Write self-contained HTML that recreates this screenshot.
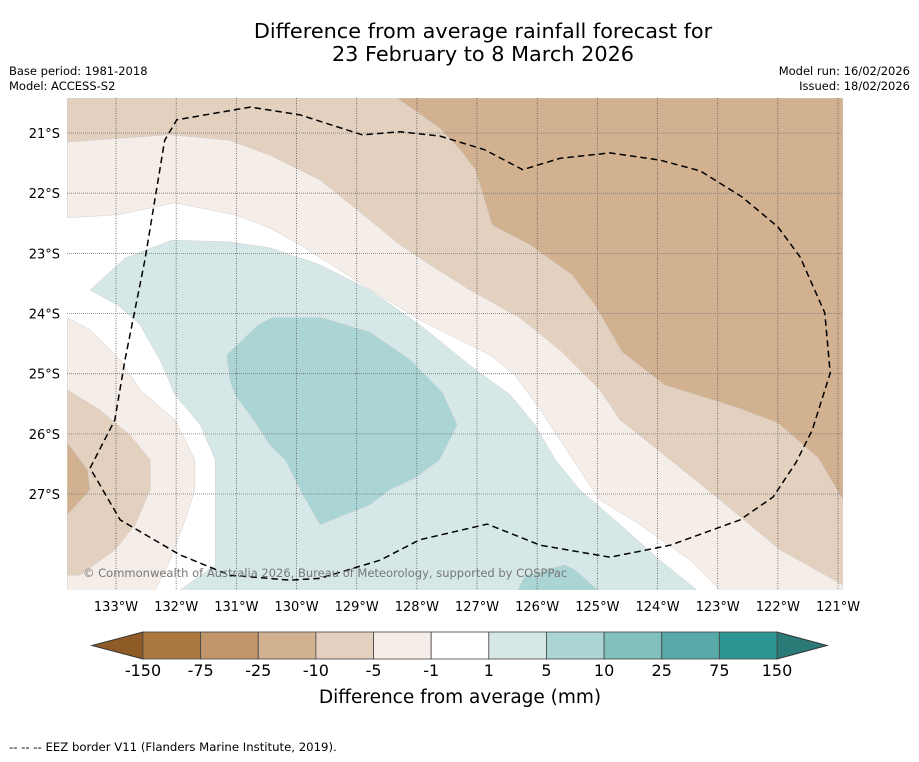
<!DOCTYPE html>
<html><head><meta charset="utf-8">
<style>
html,body{margin:0;padding:0;background:#fff;}
body{width:919px;height:758px;overflow:hidden;font-family:"DejaVu Sans","Liberation Sans",sans-serif;}
svg text{font-family:"DejaVu Sans","Liberation Sans",sans-serif;}
</style></head>
<body>
<svg id="chart" width="919" height="758" xmlns="http://www.w3.org/2000/svg">
<text x="483" y="38" font-size="20.8" text-anchor="middle" fill="#000">Difference from average rainfall forecast for</text>
<text x="483" y="61" font-size="20.8" text-anchor="middle" fill="#000">23 February to 8 March 2026</text>
<text x="9" y="75" font-size="11.5">Base period: 1981-2018</text>
<text x="9" y="90" font-size="11.5">Model: ACCESS-S2</text>
<text x="910" y="75" font-size="11.5" text-anchor="end">Model run: 16/02/2026</text>
<text x="910" y="90" font-size="11.5" text-anchor="end">Issued: 18/02/2026</text>
<defs><clipPath id="mapclip"><rect x="67" y="98" width="776" height="492"/></clipPath></defs>
<g id="map" clip-path="url(#mapclip)"></g>
<g id="grid"></g>
<g id="eez" clip-path="url(#mapclip)"></g>
<text x="83" y="577" font-size="11.5" fill="#777">© Commonwealth of Australia 2026, Bureau of Meteorology, supported by COSPPac</text>
<g id="xticks"></g>
<g id="yticks"></g>
<g id="cbar"></g>
<text x="460" y="703" font-size="18.5" text-anchor="middle">Difference from average (mm)</text>
<text x="9" y="751" font-size="11.7">--  --  -- EEZ border V11 (Flanders Marine Institute, 2019).</text>
</svg>
<script>
// Axis domain (degrees west / degrees south)
const lonTicks = [133,132,131,130,129,128,127,126,125,124,123,122,121];
const latTicks = [21,22,23,24,25,26,27];
// Contour polygons [degW, degS]
const bandMinus5to1Top = [[133.81,20.42],[120.92,20.42],[120.92,28.60],[122.96,28.60],[123.46,28.10],[124.29,27.51],[124.96,27.10],[125.29,26.60],[125.62,26.10],[125.95,25.60],[126.37,25.02],[126.78,24.69],[127.95,24.11],[129.03,23.44],[129.94,22.86],[130.44,22.58],[131.02,22.36],[132.02,22.16],[132.97,22.36],[133.81,22.41]];
const bandMinus10to5Top = [[133.81,20.42],[120.92,20.42],[120.92,28.51],[121.96,27.93],[122.96,27.10],[123.79,26.43],[124.62,25.77],[124.96,25.27],[125.62,24.61],[126.29,24.07],[127.12,23.61],[127.78,23.19],[128.28,22.86],[128.78,22.45],[129.61,21.78],[130.44,21.37],[131.11,21.12],[132.10,21.03],[133.81,21.15]];
const bandMinus25to10Top = [[128.33,20.42],[120.92,20.42],[120.92,27.10],[121.33,26.40],[122.00,25.82],[122.66,25.57],[123.88,25.19],[124.59,24.64],[125.04,23.86],[125.42,23.36],[126.12,22.86],[126.75,22.53],[127.03,21.61],[127.28,21.28],[127.62,20.92]];
const bandMinus5to1Left = [[133.81,24.07],[133.43,24.27],[132.93,24.77],[132.60,25.27],[132.02,25.77],[131.69,26.43],[131.69,26.93],[131.85,27.43],[132.10,28.10],[132.35,28.60],[133.81,28.60]];
const bandMinus10to5Left = [[133.81,25.27],[133.27,25.60],[132.77,26.02],[132.43,26.43],[132.43,26.93],[132.68,27.51],[133.02,27.93],[133.60,28.35],[133.81,28.35]];
const bandMinus25to10Left = [[133.81,26.14],[133.47,26.60],[133.43,26.93],[133.81,27.35]];
const bandPlus1to5 = [[133.43,23.61],[132.85,23.08],[132.07,22.78],[131.11,22.81],[130.44,22.91],[129.61,23.19],[128.78,23.61],[127.95,24.19],[127.12,24.86],[126.45,25.35],[126.04,25.85],[125.70,26.43],[125.29,26.93],[124.62,27.51],[123.96,28.10],[123.34,28.60],[131.94,28.60],[131.35,28.18],[131.35,26.43],[131.60,25.85],[132.02,25.35],[132.27,24.77],[132.60,24.19],[132.97,23.86]];
const bandPlus5to10 = [[131.16,24.69],[130.64,24.19],[130.41,24.07],[129.58,24.07],[128.78,24.31],[128.11,24.77],[127.57,25.32],[127.33,25.85],[127.62,26.43],[128.03,26.73],[128.45,26.93],[128.78,27.18],[129.61,27.51],[129.94,26.93],[130.19,26.43],[130.44,26.19],[130.66,25.85],[131.02,25.35],[131.11,25.10]];
const bandPlus5to10South = [[126.32,28.60],[126.20,28.35],[125.54,28.18],[125.37,28.26],[124.99,28.60]];
const eezLine = [[133.43,26.57],[133.02,25.77],[132.85,24.77],[132.52,23.11],[132.19,21.12],[131.99,20.78],[130.77,20.57],[129.94,20.70],[128.91,21.03],[128.28,20.98],[127.62,21.05],[126.87,21.28],[126.24,21.61],[125.62,21.42],[124.79,21.33],[123.96,21.45],[123.29,21.63],[122.60,22.06],[122.00,22.56],[121.63,23.06],[121.22,23.99],[121.13,24.99],[121.43,25.94],[121.70,26.48],[122.08,27.05],[122.63,27.43],[123.79,27.85],[124.79,28.05],[125.95,27.85],[126.83,27.50],[127.95,27.76],[128.61,28.10],[129.61,28.40],[130.11,28.43],[131.11,28.35],[131.94,28.01],[132.93,27.43],[133.43,26.57]];
// Colorbar data
const cbarColors = ["#ab7840","#c0956a","#d2b190","#e3d0bf","#f5ede8","#ffffff","#d5e8e7","#abd5d5","#81c0bd","#57aaa8","#2e9692"];
const cbarLabels = ["-150","-75","-25","-10","-5","-1","1","5","10","25","75","150"];
const cbarLowExtend = "#8f5b27";
const cbarHighExtend = "#2a7a77";

const NS="http://www.w3.org/2000/svg";
const PX=60.17;
function X(w){return 116+(133-w)*PX;}
function Y(s){return 133+(s-21)*PX;}
function mk(tag,attrs,parent){const e=document.createElementNS(NS,tag);for(const k in attrs)e.setAttribute(k,attrs[k]);parent.appendChild(e);return e;}
function pts(arr){return arr.map(p=>X(p[0]).toFixed(1)+","+Y(p[1]).toFixed(1)).join(" ");}

const map=document.getElementById("map");
let bg=mk("rect",{x:67,y:98,width:776,height:492,fill:"#ffffff"},map);


const layers=[
 [bandMinus5to1Top,"#f5ede8","band-minus5-minus1-north"],
 [bandMinus10to5Top,"#e3d0bf","band-minus10-minus5-north"],
 [bandMinus25to10Top,"#d2b190","band-minus25-minus10-north"],
 [bandMinus5to1Left,"#f5ede8","band-minus5-minus1-west"],
 [bandMinus10to5Left,"#e3d0bf","band-minus10-minus5-west"],
 [bandMinus25to10Left,"#d2b190","band-minus25-minus10-west"],
 [bandPlus1to5,"#d5e8e7","band-plus1-plus5"],
 [bandPlus5to10,"#abd5d5","band-plus5-plus10"],
 [bandPlus5to10South,"#abd5d5","band-plus5-plus10-south"]
];
layers.forEach(l=>{
 const p=mk("polygon",{points:pts(l[0]),fill:l[1],stroke:"#cfcfcf","stroke-width":0.5},map);
 
 
});

const grid=document.getElementById("grid");
lonTicks.forEach(w=>{
 const ln=mk("line",{x1:X(w),x2:X(w),y1:98,y2:590,stroke:"#555","stroke-width":0.8,"stroke-dasharray":"1,1.5"},grid);
 
 
 const t=mk("text",{x:X(w),y:611,"font-size":13,"text-anchor":"middle"},document.getElementById("xticks"));
 t.textContent=w+"°W";
 
 
});
latTicks.forEach(s=>{
 const ln=mk("line",{x1:67,x2:843,y1:Y(s),y2:Y(s),stroke:"#777","stroke-width":0.8,"stroke-dasharray":"1,1"},grid);
 
 
 const t=mk("text",{x:60,y:Y(s)+5,"font-size":13,"text-anchor":"end"},document.getElementById("yticks"));
 t.textContent=s+"°S";
 
 
});

const eez=mk("polyline",{points:pts(eezLine),fill:"none",stroke:"#000","stroke-width":1.5,"stroke-dasharray":"6.5,4"},document.getElementById("eez"));



const cb=document.getElementById("cbar");
const cx0=143,cx1=777,cy0=632,cy1=659,cw=(cx1-cx0)/cbarColors.length;
const lo=mk("polygon",{points:`${cx0},${cy0} ${cx0},${cy1} 92,${(cy0+cy1)/2}`,fill:cbarLowExtend,stroke:"#333","stroke-width":1},cb);


const hi=mk("polygon",{points:`${cx1},${cy0} ${cx1},${cy1} 827,${(cy0+cy1)/2}`,fill:cbarHighExtend,stroke:"#333","stroke-width":1},cb);


cbarColors.forEach((c,i)=>{
 const r=mk("rect",{x:cx0+i*cw,y:cy0,width:cw,height:cy1-cy0,fill:c,stroke:"#444","stroke-width":0.8},cb);
 
 
});
cbarLabels.forEach((l,i)=>{
 const t=mk("text",{x:cx0+i*cw,y:676,"font-size":16,"text-anchor":"middle"},cb);
 t.textContent=l;
 
 
});
</script>
</body></html>
